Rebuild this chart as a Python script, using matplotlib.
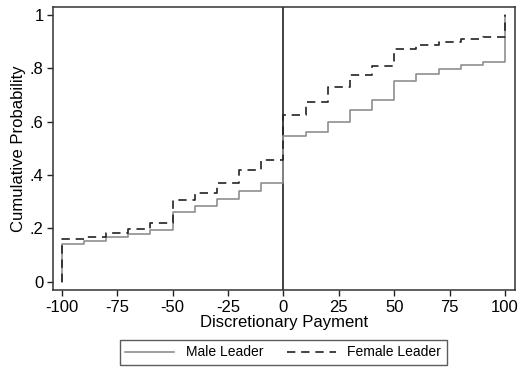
import numpy as np
import matplotlib.pyplot as plt

plt.rcParams['font.family'] = ['Liberation Sans', 'DejaVu Sans']
plt.rcParams['axes.unicode_minus'] = False

# payment levels and cumulative shares at each level
payment = [-100, -90, -80, -70, -60, -50, -40, -30, -20, -10,
           0, 10, 20, 30, 40, 50, 60, 70, 80, 90, 100]
cdf_male = [0.141, 0.153, 0.166, 0.178, 0.194, 0.263, 0.285, 0.312, 0.341, 0.371,
            0.548, 0.561, 0.598, 0.644, 0.681, 0.753, 0.779, 0.799, 0.812, 0.825, 1.0]
cdf_female = [0.159, 0.166, 0.184, 0.199, 0.221, 0.305, 0.334, 0.371, 0.419, 0.456,
              0.625, 0.675, 0.730, 0.775, 0.808, 0.873, 0.886, 0.899, 0.910, 0.916, 1.0]

xticks = [-100, -75, -50, -25, 0, 25, 50, 75, 100]
yticks = [0, 0.2, 0.4, 0.6, 0.8, 1.0]
ytick_labels = ['0', '.2', '.4', '.6', '.8', '1']


def step_path(x, y):
    # start the step line at zero on the first payment level
    xs = [x[0]] + list(x)
    ys = [0.0] + list(y)
    return xs, ys


fig = plt.figure(figsize=(5.19, 3.69), dpi=100)
ax = fig.add_axes([0.1027, 0.2141, 0.8896, 0.7661])

xs, ys = step_path(payment, cdf_male)
ax.plot(xs, ys, drawstyle='steps-post', color='#8f8f8f', lw=1.2, label='Male Leader')
xs, ys = step_path(payment, cdf_female)
ax.plot(xs, ys, drawstyle='steps-post', color='#222222', lw=1.2,
        dashes=(5, 3.5), label='Female Leader')

ax.axvline(0, color='#333333', lw=1.3, zorder=1)

ax.set_xlim(-103.8, 104.5)
ax.set_ylim(-0.031, 1.029)
ax.set_xticks(xticks)
ax.set_yticks(yticks)
ax.set_yticklabels(ytick_labels)
ax.tick_params(direction='out', length=4.5, width=1, colors='#222222',
               labelsize=12, labelcolor='black', pad=2.5)
for s in ax.spines.values():
    s.set_color('#333333')
    s.set_linewidth(1.1)

ax.set_xlabel('Discretionary Payment', fontsize=12, labelpad=0)
ax.set_ylabel('Cumulative Probability', fontsize=12, labelpad=3)

leg = fig.legend(loc='center', bbox_to_anchor=(0.546, 0.045), ncol=2,
                 fontsize=10, frameon=True, fancybox=False, edgecolor='#333333',
                 handlelength=3.5, handletextpad=0.85, columnspacing=1.7,
                 borderpad=0.4)
leg.get_frame().set_linewidth(1.0)

fig.savefig('out.png', dpi=100)
